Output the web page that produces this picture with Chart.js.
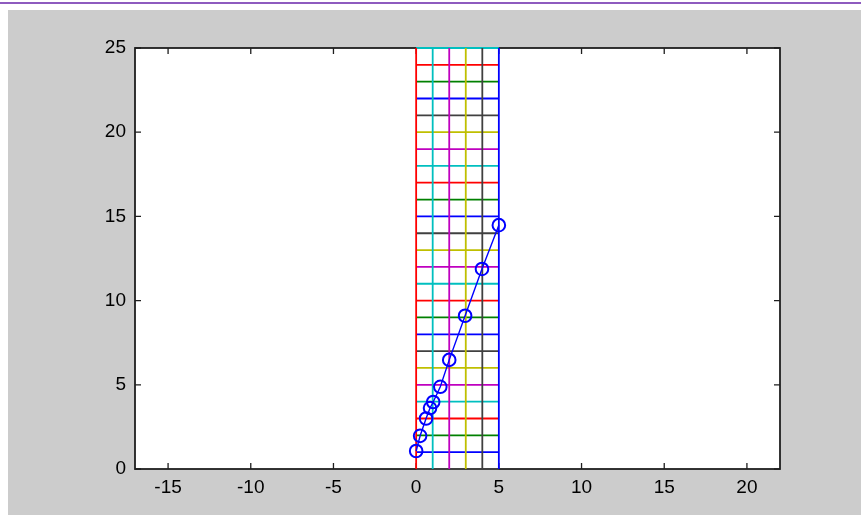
<!DOCTYPE html>
<html>
<head>
<meta charset="utf-8">
<script src="https://cdn.jsdelivr.net/npm/chart.js@4/dist/chart.umd.min.js"></script>
<style>
  html, body { margin: 0; padding: 0; background: #ffffff; }
  #c { display: block; }
</style>
</head>
<body>
<canvas id="c" width="861" height="515" style="width:861px;height:515px"></canvas>
<script>
// ---- data ----
const xTickLabels = [-15, -10, -5, 0, 5, 10, 15, 20];
const yTickLabels = [0, 5, 10, 15, 20, 25];
const xRange = [-17, 22];
const yRange = [0, 25];

// grid mesh lines (vertical at these x, horizontal at these y)
const meshX = [0, 1, 2, 3, 4, 5];
const meshY = [0, 1, 2, 3, 4, 5, 6, 7, 8, 9, 10, 11, 12, 13, 14, 15, 16, 17, 18, 19, 20, 21, 22, 23, 24, 25];

// series (blue line with circle markers)
const seriesX = [0, 0.24, 0.6, 0.84, 1.03, 1.46, 2.0, 2.96, 3.98, 5.0];
const seriesY = [1.07, 1.97, 3.0, 3.62, 3.98, 4.88, 6.48, 9.1, 11.88, 14.48];

// ---- styles ----
// MATLAB-like color order: b g r c m y k
const colorOrder = ['#0000ff', '#008000', '#ff0000', '#00bfbf', '#bf00bf', '#bfbf00', '#404040'];
const vColorOffset = 2;   // x=0 -> red
const hColorCycle = ['#404040', '#0000ff', '#008000', '#ff0000', '#00bfbf', '#bf00bf', '#bfbf00']; // y mod 7

const datasets = [];
datasets.push({
  label: 'series',
  data: seriesX.map((x, i) => ({ x: x, y: seriesY[i] })),
  borderColor: '#0000ff',
  borderWidth: 1.4,
  pointRadius: 6.3,
  pointBorderWidth: 2,
  pointBorderColor: '#0000ff',
  pointBackgroundColor: 'rgba(0,0,0,0)',
  showLine: true,
  tension: 0,
  order: 0,
  clip: false
});
meshX.forEach((x, i) => {
  datasets.push({
    data: [{ x: x, y: yRange[0] }, { x: x, y: yRange[1] }],
    borderColor: colorOrder[(i + vColorOffset) % 7],
    borderWidth: 1.8,
    pointRadius: 0,
    showLine: true,
    order: 1,
    clip: false
  });
});
meshY.forEach((y) => {
  datasets.push({
    data: [{ x: meshX[0], y: y }, { x: meshX[meshX.length - 1], y: y }],
    borderColor: hColorCycle[y % 7],
    borderWidth: 1.8,
    pointRadius: 0,
    showLine: true,
    order: 2,
    clip: false
  });
});

const bgPlugin = {
  id: 'bg',
  beforeDraw(chart) {
    const ctx = chart.ctx;
    const W = chart.width, H = chart.height;
    ctx.save();
    ctx.fillStyle = '#ffffff';
    ctx.fillRect(0, 0, W, H);
    ctx.fillStyle = '#8e5bbf';
    ctx.fillRect(0, 2, W, 2);
    ctx.fillStyle = '#cccccc';
    ctx.fillRect(8, 10, W - 8, H - 10);
    const a = chart.chartArea;
    ctx.fillStyle = '#ffffff';
    ctx.fillRect(a.left, a.top, a.right - a.left, a.bottom - a.top);
    ctx.restore();
  },
  beforeDatasetsDraw(chart) {
    const ctx = chart.ctx;
    const a = chart.chartArea;
    const xs = chart.scales.x, ys = chart.scales.y;
    ctx.save();
    ctx.strokeStyle = '#1e1e1e';
    ctx.lineWidth = 1.8;
    ctx.strokeRect(a.left, a.top, a.right - a.left, a.bottom - a.top);
    ctx.lineWidth = 1.3;
    const tl = 6;
    ctx.beginPath();
    xTickLabels.forEach(v => {
      const px = xs.getPixelForValue(v);
      ctx.moveTo(px, a.bottom); ctx.lineTo(px, a.bottom - tl);
      ctx.moveTo(px, a.top); ctx.lineTo(px, a.top + tl);
    });
    yTickLabels.forEach(v => {
      const py = ys.getPixelForValue(v);
      ctx.moveTo(a.left, py); ctx.lineTo(a.left + tl, py);
      ctx.moveTo(a.right, py); ctx.lineTo(a.right - tl, py);
    });
    ctx.stroke();
    ctx.restore();
  }
};

const tickFont = { family: "'Liberation Sans', Arial, sans-serif", size: 19 };

new Chart(document.getElementById('c'), {
  type: 'scatter',
  data: { datasets: datasets },
  options: {
    responsive: false,
    devicePixelRatio: 1,
    animation: false,
    layout: { padding: { left: 0, top: 48, right: 81, bottom: 0 } },
    plugins: { legend: { display: false }, tooltip: { enabled: false } },
    scales: {
      x: {
        type: 'linear',
        min: xRange[0], max: xRange[1],
        afterBuildTicks(scale) { scale.ticks = xTickLabels.map(v => ({ value: v })); },
        afterFit(scale) { scale.height = 46; },
        grid: { display: false, drawTicks: false },
        border: { display: false },
        ticks: { font: tickFont, color: '#000000', padding: 7, maxRotation: 0, autoSkip: false, callback: v => String(v) }
      },
      y: {
        type: 'linear',
        min: yRange[0], max: yRange[1],
        afterBuildTicks(scale) { scale.ticks = yTickLabels.map(v => ({ value: v })); },
        afterFit(scale) { scale.width = 135; },
        grid: { display: false, drawTicks: false },
        border: { display: false },
        ticks: { font: tickFont, color: '#000000', padding: 9, autoSkip: false, callback: v => String(v) }
      }
    }
  },
  plugins: [bgPlugin]
});
</script>
</body>
</html>
